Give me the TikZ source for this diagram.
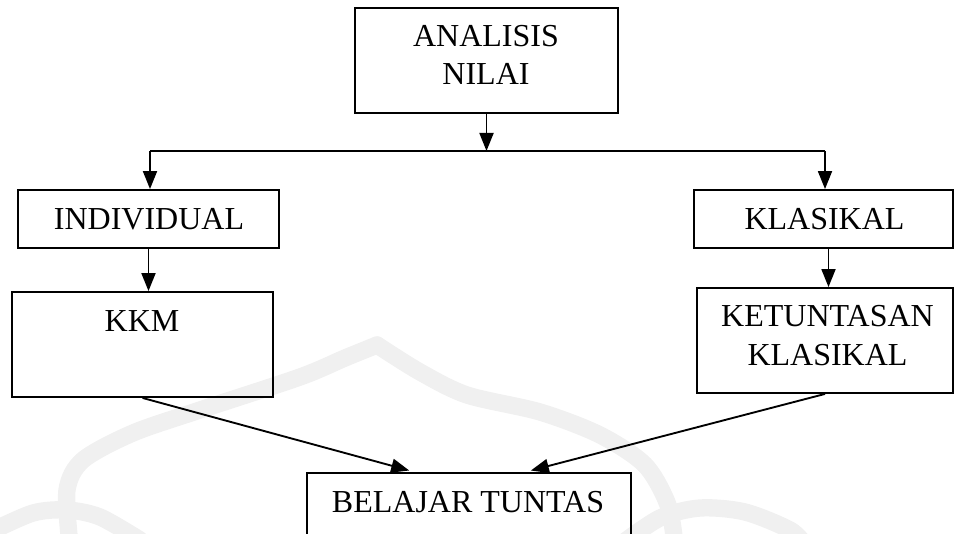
\documentclass[tikz,border=0pt]{standalone}
\usepackage{fontspec}
\setmainfont{Liberation Serif}
\usetikzlibrary{arrows.meta,fit}
\begin{document}
\begin{tikzpicture}[x=0.75pt,y=-0.75pt,
  frame/.style={draw=black, line width=1.4pt, rectangle, inner sep=0pt},
  lbl/.style={inner sep=0pt, anchor=base, font=\fontsize{24}{28}\selectfont},
  link/.style={draw=black, line width=1.4pt},
  arr/.style={link, -{Triangle[length=13.5pt,width=10.5pt]}},
  emblem/.style={draw=black!6, line width=13pt, line cap=round}]
\useasboundingbox (0,0) rectangle (955,534);
\clip (0,0) rectangle (955,534);

% faint dome-shaped emblem behind the chart
\draw[emblem] plot[smooth] coordinates {(-10,532) (33,513) (67,510) (100,517) (140,540)};
\draw[emblem] plot[smooth] coordinates {(70,545) (67,490) (83,460) (133,433) (200,410) (300,377) (345,358) (377,345)};
\draw[emblem] plot[smooth] coordinates {(377,345) (420,372) (467,395) (540,412) (600,435) (645,465) (668,505) (675,545)};
\draw[emblem] plot[smooth] coordinates {(620,545) (660,518) (700,508) (745,512) (790,530) (805,545)};

% boxes
\node[frame, fit={(355,8) (618,113)}] (ana) {};
\node[frame, fit={(18,190) (279,248)}] (ind) {};
\node[frame, fit={(694,190) (953,248)}] (kla) {};
\node[frame, fit={(12,292) (273,397)}] (kkm) {};
\node[frame, fit={(697,288) (953,393)}] (ket) {};
\node[frame, fit={(307,473) (631,560)}] (bel) {};

% texts
\node[lbl] (anaA) at (486,46.7) {ANALISIS};
\node[lbl] (anaB) at (486,85) {NILAI};
\node[lbl] (indT) at (149,230) {INDIVIDUAL};
\node[lbl] (klaT) at (824.5,230) {KLASIKAL};
\node[lbl] (kkmT) at (142,331.7) {KKM};
\node[lbl] (ketA) at (827.5,326.7) {KETUNTASAN};
\node[lbl] (ketB) at (827.5,365) {KLASIKAL};
\node[lbl] (belT) at (468,512.7) {BELAJAR TUNTAS};

% branching connectors
\coordinate (busL) at (150,151);
\coordinate (busR) at (825,151);
\draw[arr] (ana.south) -- (ana.south |- busL);
\draw[link] (busL) -- (busR);
\draw[arr] (busL) -- (busL |- ind.north);
\draw[arr] (busR) -- (busR |- kla.north);
\draw[arr] (ind.south) -- (ind.south |- kkm.north);
\draw[arr] ([xshift=3.75pt]kla.south) -- ([xshift=3.75pt]kla.south |- ket.north);

% converging connectors
\draw[arr, shorten >=4.5pt] (kkm.south) -- ([xshift=-40.5pt]bel.north);
\draw[arr, shorten >=4.5pt] (ket.south) -- ([xshift=42pt]bel.north);
\end{tikzpicture}
\end{document}
